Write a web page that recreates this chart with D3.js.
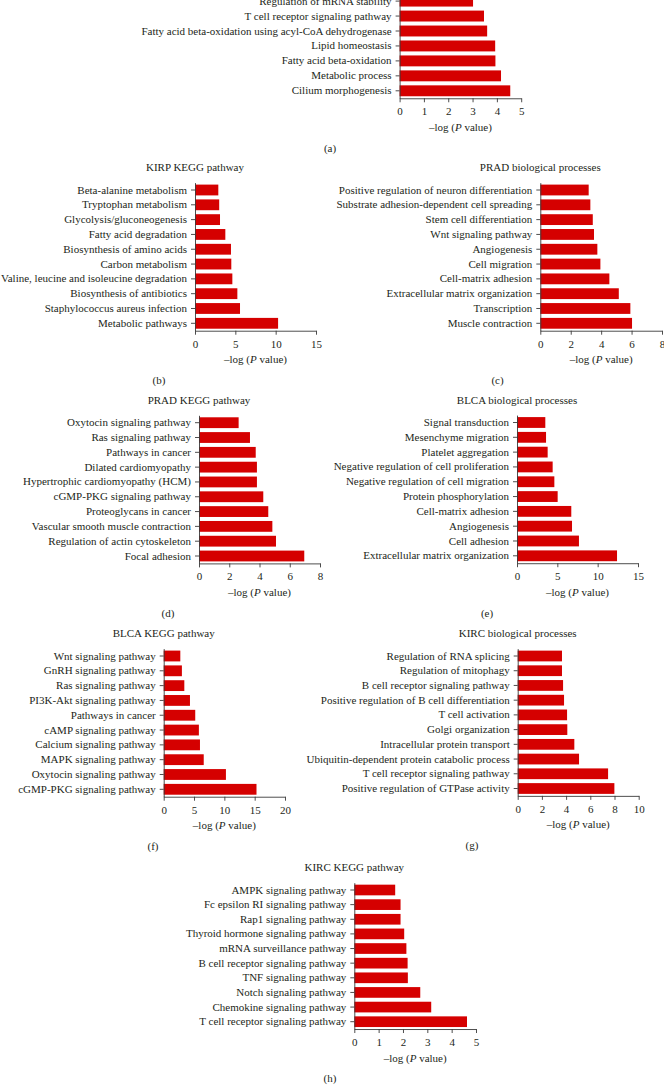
<!DOCTYPE html>
<html><head><meta charset="utf-8">
<script src="https://cdn.jsdelivr.net/npm/d3@7"></script>
<style>
body{margin:0;background:#fff}
svg{display:block}
text{font-family:"Liberation Serif","Times New Roman",serif;fill:#231f20}
</style>
</head><body>
<svg id="chart" width="664" height="1085"></svg>
<script>
// ---------- data ----------
const aCategories = ["Regulation of mRNA stability","T cell receptor signaling pathway","Fatty acid beta-oxidation using acyl-CoA dehydrogenase","Lipid homeostasis","Fatty acid beta-oxidation","Metabolic process","Cilium morphogenesis"];
const aValues = [3.02,3.47,3.6,3.93,3.94,4.17,4.55];
const aTicks = [0,1,2,3,4,5];

const bTitle = "KIRP KEGG pathway";
const bCategories = ["Beta-alanine metabolism","Tryptophan metabolism","Glycolysis/gluconeogenesis","Fatty acid degradation","Biosynthesis of amino acids","Carbon metabolism","Valine, leucine and isoleucine degradation","Biosynthesis of antibiotics","Staphylococcus aureus infection","Metabolic pathways"];
const bValues = [2.89,3.0,3.1,3.76,4.46,4.5,4.63,5.25,5.58,10.3];
const bTicks = [0,5,10,15];

const cTitle = "PRAD biological processes";
const cCategories = ["Positive regulation of neuron differentiation","Substrate adhesion-dependent cell spreading","Stem cell differentiation","Wnt signaling pathway","Angiogenesis","Cell migration","Cell-matrix adhesion","Extracellular matrix organization","Transcription","Muscle contraction"];
const cValues = [3.18,3.29,3.45,3.53,3.75,3.95,4.54,5.16,5.92,6.03];
const cTicks = [0,2,4,6,8];

const dTitle = "PRAD KEGG pathway";
const dCategories = ["Oxytocin signaling pathway","Ras signaling pathway","Pathways in cancer","Dilated cardiomyopathy","Hypertrophic cardiomyopathy (HCM)","cGMP-PKG signaling pathway","Proteoglycans in cancer","Vascular smooth muscle contraction","Regulation of actin cytoskeleton","Focal adhesion"];
const dValues = [2.62,3.37,3.75,3.83,3.83,4.25,4.58,4.85,5.09,6.96];
const dTicks = [0,2,4,6,8];

const eTitle = "BLCA biological processes";
const eCategories = ["Signal transduction","Mesenchyme migration","Platelet aggregation","Negative regulation of cell proliferation","Negative regulation of cell migration","Protein phosphorylation","Cell-matrix adhesion","Angiogenesis","Cell adhesion","Extracellular matrix organization"];
const eValues = [3.51,3.6,3.8,4.42,4.63,5.04,6.73,6.82,7.68,12.4];
const eTicks = [0,5,10,15];

const fTitle = "BLCA KEGG pathway";
const fCategories = ["Wnt signaling pathway","GnRH signaling pathway","Ras signaling pathway","PI3K-Akt signaling pathway","Pathways in cancer","cAMP signaling pathway","Calcium signaling pathway","MAPK signaling pathway","Oxytocin signaling pathway","cGMP-PKG signaling pathway"];
const fValues = [2.74,3.0,3.4,4.33,5.2,5.8,5.98,6.6,10.26,15.3];
const fTicks = [0,5,10,15,20];

const gTitle = "KIRC biological processes";
const gCategories = ["Regulation of RNA splicing","Regulation of mitophagy","B cell receptor signaling pathway","Positive regulation of B cell differentiation","T cell activation","Golgi organization","Intracellular protein transport","Ubiquitin-dependent protein catabolic process","T cell receptor signaling pathway","Positive regulation of GTPase activity"];
const gValues = [3.66,3.66,3.75,3.83,4.08,4.1,4.68,5.07,7.47,7.99];
const gTicks = [0,2,4,6,8,10];

const hTitle = "KIRC KEGG pathway";
const hCategories = ["AMPK signaling pathway","Fc epsilon RI signaling pathway","Rap1 signaling pathway","Thyroid hormone signaling pathway","mRNA surveillance pathway","B cell receptor signaling pathway","TNF signaling pathway","Notch signaling pathway","Chemokine signaling pathway","T cell receptor signaling pathway"];
const hValues = [1.68,1.9,1.9,2.05,2.14,2.19,2.2,2.71,3.16,4.63];
const hTicks = [0,1,2,3,4,5];

const panelLetters = ["(a)","(b)","(c)","(d)","(e)","(f)","(g)","(h)"];
const axisTitlePre = "\u2013log (";
const axisTitleItalic = "P";
const axisTitlePost = " value)";

// ---------- layout ----------
const FS = 11;
const BAR = "#d50000";
const AXIS = "#3a3a3a";
const panels = [
  {cats:aCategories, vals:aValues, ticks:aTicks, title:null,   letter:panelLetters[0], x0:399.6, x1:521.2, yf:1.1,   yl:90.8,   lx:330},
  {cats:bCategories, vals:bValues, ticks:bTicks, title:bTitle, letter:panelLetters[1], x0:195,   x1:316,   yf:190,   yl:323.3,  lx:159},
  {cats:cCategories, vals:cValues, ticks:cTicks, title:cTitle, letter:panelLetters[2], x0:540.3, x1:662,   yf:190,   yl:323.3,  lx:497.5},
  {cats:dCategories, vals:dValues, ticks:dTicks, title:dTitle, letter:panelLetters[3], x0:199,   x1:320,   yf:422.7, yl:556,    lx:168},
  {cats:eCategories, vals:eValues, ticks:eTicks, title:eTitle, letter:panelLetters[4], x0:517,   x1:638,   yf:422.5, yl:555.8,  lx:487},
  {cats:fCategories, vals:fValues, ticks:fTicks, title:fTitle, letter:panelLetters[5], x0:163.7, x1:285,   yf:656,   yl:789.3,  lx:153},
  {cats:gCategories, vals:gValues, ticks:gTicks, title:gTitle, letter:panelLetters[6], x0:517.7, x1:638.7, yf:656,   yl:788.5,  lx:472},
  {cats:hCategories, vals:hValues, ticks:hTicks, title:hTitle, letter:panelLetters[7], x0:354.3, x1:476,   yf:890,   yl:1021.7, lx:330}
];

const svg = d3.select("#chart");

panels.forEach(p => {
  const n = p.cats.length;
  const step = (p.yl - p.yf) / (n - 1);
  const top = p.yf - step / 2, bottom = p.yl + step / 2;
  const pad = 0.27;
  const y = d3.scaleBand().domain(p.cats).range([top, bottom]).paddingInner(pad).paddingOuter(pad / 2);
  const x = d3.scaleLinear().domain([0, p.ticks[p.ticks.length - 1]]).range([p.x0, p.x1]);
  const g = svg.append("g");

  // bars
  g.selectAll("rect").data(p.cats).join("rect")
    .attr("x", x(0))
    .attr("y", d => y(d))
    .attr("width", (d, i) => x(p.vals[i]) - x(0))
    .attr("height", y.bandwidth())
    .attr("fill", BAR);

  // y axis
  const ya = g.append("g").attr("transform", `translate(${p.x0},0)`)
    .call(d3.axisLeft(y).tickSize(4).tickSizeOuter(0).tickPadding(4));
  ya.selectAll("text").attr("font-size", FS).style("font-family", '"Liberation Serif",serif').attr("fill", "#231f20");

  // x axis
  const xa = g.append("g").attr("transform", `translate(0,${bottom})`)
    .call(d3.axisBottom(x).tickValues(p.ticks).tickFormat(d3.format("d")).tickSize(4).tickSizeOuter(0).tickPadding(5));
  xa.selectAll("text").attr("font-size", FS).style("font-family", '"Liberation Serif",serif').attr("fill", "#231f20");

  svg.selectAll(".domain, .tick line").attr("stroke", AXIS).attr("stroke-width", 0.9);

  // axis title
  const t = g.append("text")
    .attr("x", (p.x0 + p.x1) / 2).attr("y", bottom + 29 + FS * 0.33)
    .attr("text-anchor", "middle").attr("font-size", FS);
  t.append("tspan").text(axisTitlePre);
  t.append("tspan").attr("font-style", "italic").text(axisTitleItalic);
  t.append("tspan").text(axisTitlePost);

  // panel letter
  g.append("text").attr("x", p.lx).attr("y", bottom + 50 + FS * 0.3)
    .attr("text-anchor", "middle").attr("font-size", FS).text(p.letter);

  // panel title
  if (p.title) {
    g.append("text").attr("x", p.x0).attr("y", p.yf - 22.5 + FS * 0.33)
      .attr("text-anchor", "middle").attr("font-size", FS).text(p.title);
  }
});
</script>
</body></html>
